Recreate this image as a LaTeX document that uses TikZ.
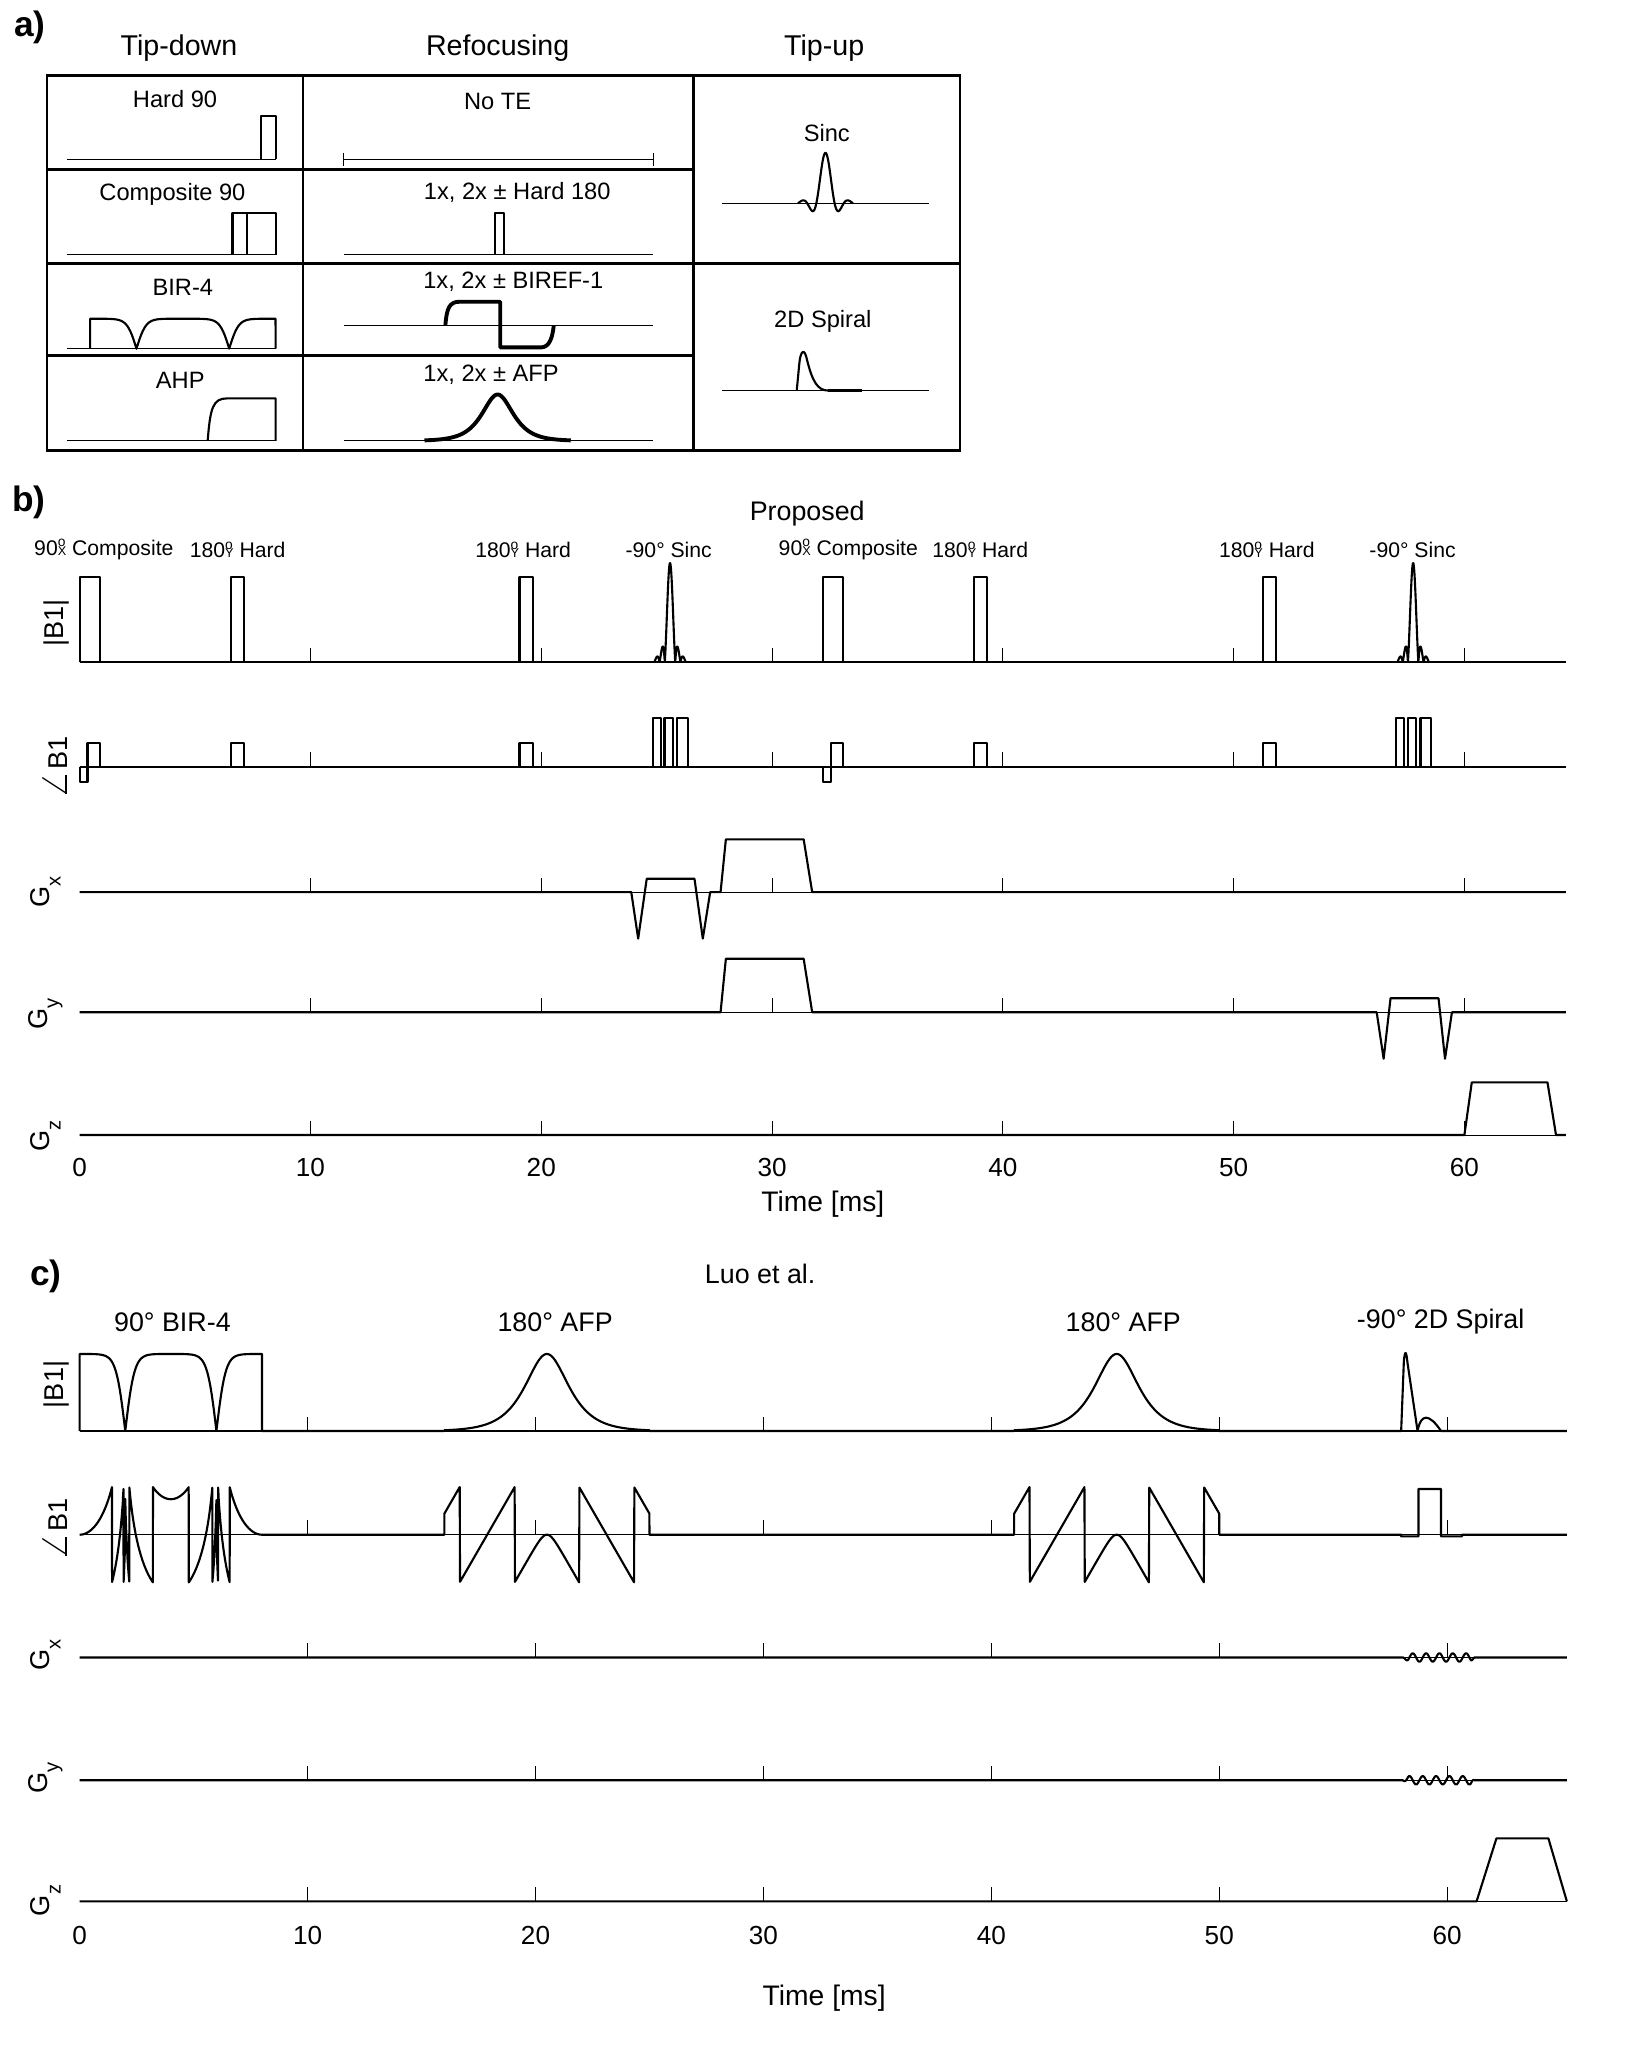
\documentclass[tikz,border=0pt]{standalone}
\usepackage{fontspec}
\setmainfont{Liberation Sans}
\usepackage{tikz}
\usetikzlibrary{positioning}

\newcommand{\fs}[1]{\fontsize{#1}{#1}\selectfont}
% stacked degree sign over the phase axis letter
\newcommand{\degsub}[1]{\makebox[0pt][l]{\raisebox{2.5pt}{\fs{3.9}o}}{\fs{3.6}#1}}
\newcommand{\gsub}[1]{G\raisebox{-3pt}{\fs{5.7}#1}}
\newcommand{\phaselab}{\scalebox{1.45}{$\angle$}B1}

\begin{document}
\begin{tikzpicture}[x=0.013cm, y=-0.013cm,
    every node/.style={inner sep=0pt, outer sep=0pt},
    colhead/.style  ={font=\fs{8.1}},
    celltext/.style ={font=\fs{6.7}},
    panellabel/.style={font=\fs{10}\bfseries},
    seqtitle/.style ={font=\fs{7.6}},
    plabel/.style   ={font=\fs{6.0}},
    ylab/.style     ={font=\fs{7.7}, rotate=90},
    ticklab/.style  ={font=\fs{7.4}},
    tbl/.style      ={line width=0.8pt},
    wave/.style     ={line width=0.6pt, line join=round},
    wavebold/.style ={line width=1.1pt, line join=round},
    axisline/.style ={line width=0.3pt},
    tickmark/.style ={line width=0.3pt},
    declare function={wrap(\p)=mod(\p+21*pi,2*pi)-pi;
                      lnch(\q)=ln(cosh(min(abs(\q),5)))+max(abs(\q)-5,0);}
]
\useasboundingbox (0,0) rectangle (1249,1568);

% ========== PANEL A: pulse table ==========
\node[panellabel] (laba) at (23,21) {a)};
\node[colhead] (tipdown) at (137,37) {Tip-down};
\node[colhead] (refoc)   at (381,37) {Refocusing};
\node[colhead] (tipup)   at (631,37) {Tip-up};

\draw[tbl] (36,58) rectangle (735,345);
\draw[tbl] (232,58) -- (232,345);
\draw[tbl] (531,58) -- (531,345);
\draw[tbl] (36,130) -- (531,130);
\draw[tbl] (36,202) -- (735,202);
\draw[tbl] (36,272) -- (531,272);

% tip-down column
\node[celltext] (hard90) at (134,76) {Hard 90};
\draw[axisline] (51,122) -- (211,122);
\draw[wave] (200,122) |- (211,89) -- (211,122);

\node[celltext] (comp90) at (132,149) {Composite 90};
\draw[axisline] (51,195) -- (211,195);
\draw[wave] (178,195) |- (211,163) -- (211,195);
\draw[wave] (189,163) -- (189,195);

\node[celltext] (bir4) at (140,220) {BIR-4};
\draw[axisline] (51,267) -- (211,267);
\begin{scope}[shift={(69,267)}, y=0.013cm]
  \draw[wave] (0,0) -- plot[domain=0:4, samples=121] (\x*35.5, {23*tanh(5*min(abs(\x-1),abs(\x-3)))}) -- (142,0);
\end{scope}

\node[celltext] (ahp) at (138,291) {AHP};
\draw[axisline] (51,337.5) -- (211,337.5);
\draw[wave] (159,337.5) .. controls (161,312) and (163,305) .. (174,305) -- (211,305) -- (211,337.5);

% refocusing column
\node[celltext] (note) at (381,78) {No TE};
\draw[axisline] (263,122) -- (500,122);
\draw[axisline] (263,117) -- (263,127);
\draw[axisline] (500,117) -- (500,127);

\node[celltext] (hard180) at (396,147) {1x, 2x ± Hard 180};
\draw[axisline] (263,195) -- (500,195);
\draw[wave] (379,195) |- (386,163) -- (386,195);

\node[celltext] (biref) at (393,216) {1x, 2x ± BIREF-1};
\draw[axisline] (263,249) -- (500,249);
\draw[wavebold] (341,249) .. controls (342,236) and (344,231) .. (352,231) -- (383,231) -- (383,266) -- (414,266) .. controls (421,266) and (423,258) .. (424,249);

\node[celltext] (afp) at (376,287) {1x, 2x ± AFP};
\draw[axisline] (263,337.5) -- (500,337.5);
\draw[wavebold] plot[domain=-1:1, samples=81] ({381+56*\x}, {337.5-35.5/cosh(5.3*\x)});

% tip-up column
\node[celltext] (sinc) at (633,102) {Sinc};
\draw[axisline] (553,155.6) -- (711,155.6);
\draw[wave] plot[domain=-3:3, samples=120] ({632+7*\x}, {155.6-38.6*(0.7+0.3*cos(60*\x))*sin(180*\x)/(3.14159*\x)});

\node[celltext] (spiral) at (630,246) {2D Spiral};
\draw[axisline] (553,299) -- (711,299);
\draw[wave] (610,299) -- (612,278) .. controls (613,268) and (616,266) .. (618,276) .. controls (622,292) and (626,299) .. (634,299);
\draw[wavebold] (634,299) -- (660,299);

% ========== PANEL B: proposed sequence ==========
\node[panellabel] (labb) at (22,385) {b)};
\node[seqtitle] (proposed) at (618,393) {Proposed};
\node[plabel] (pb1) at (79.5,421)  {90\degsub{X} Composite};
\node[plabel] (pb2) at (182,421)   {180\degsub{Y} Hard};
\node[plabel] (pb3) at (400.5,421) {180\degsub{Y} Hard};
\node[plabel] (pb4) at (512,421)   {-90° Sinc};
\node[plabel] (pb5) at (649.5,421) {90\degsub{X} Composite};
\node[plabel] (pb6) at (750.5,421) {180\degsub{Y} Hard};
\node[plabel] (pb7) at (970,421)   {180\degsub{Y} Hard};
\node[plabel] (pb8) at (1081.5,421){-90° Sinc};

\node[ylab] (bmag) at (43,477) {|B1|};
\node[ylab] (bph)  at (42,588) {\phaselab};
\node[ylab] (bgx)  at (35,683) {\gsub{x}};
\node[ylab] (bgy)  at (35,776) {\gsub{y}};
\node[ylab] (bgz)  at (35,870) {\gsub{z}};

% |B1|
\begin{scope}[shift={(61,507)}, x=0.22971cm, y=0.013cm]
  \draw[axisline] (0,0) -- (64.4,0);
  \foreach \tk in {10,20,...,60} \draw[tickmark] (\tk,0) -- (\tk,11);
  \draw[wave] (0,0) -- (64.4,0);
  \foreach \off in {0,32.2} {
    \draw[wave] (\off,0) |- (\off+0.87,65) -- (\off+0.87,0);
    \draw[wave] (\off+6.54,0) |- (\off+7.11,65) -- (\off+7.11,0);
    \draw[wave] (\off+19.06,0) |- (\off+19.64,65) -- (\off+19.64,0);
    \draw[wave] plot[domain=-3:3, samples=120] ({\off+25.58+0.2264*\x}, {76*abs(sin(180*\x)/(3.14159*\x))*(0.7+0.3*cos(60*\x))});
  }
\end{scope}

% phase of B1
\begin{scope}[shift={(61,587)}, x=0.22971cm, y=0.013cm]
  \draw[axisline] (0,0) -- (64.4,0);
  \foreach \tk in {10,20,...,60} \draw[tickmark] (\tk,0) -- (\tk,11);
  \draw[wave] (0,0) -- (64.4,0);
  \foreach \off in {0,32.2} {
    \draw[wave] (\off,0) -- (\off,-12) -- (\off+0.34,-12) -- (\off+0.34,18) -- (\off+0.88,18) -- (\off+0.88,0);
    \draw[wave] (\off+6.54,0) |- (\off+7.11,18) -- (\off+7.11,0);
    \draw[wave] (\off+19.06,0) |- (\off+19.64,18) -- (\off+19.64,0);
    \foreach \ba/\bb in {24.85/25.17, 25.34/25.71, 25.90/26.37}
      \draw[wave] (\off+\ba,0) |- (\off+\bb,37) -- (\off+\bb,0);
  }
\end{scope}

% Gx
\begin{scope}[shift={(61,683)}, x=0.22971cm, y=0.013cm]
  \draw[axisline] (0,0) -- (64.4,0);
  \foreach \tk in {10,20,...,60} \draw[tickmark] (\tk,0) -- (\tk,11);
  \draw[wave] (0,0) -- (23.9,0) -- (24.2,-35.6) -- (24.57,10.2) -- (26.64,10.2) -- (27.0,-35.6) -- (27.32,0) -- (27.77,0) -- (28.0,40.4) -- (31.37,40.4) -- (31.74,0) -- (64.4,0);
\end{scope}

% Gy
\begin{scope}[shift={(61,775)}, x=0.22971cm, y=0.013cm]
  \draw[axisline] (0,0) -- (64.4,0);
  \foreach \tk in {10,20,...,60} \draw[tickmark] (\tk,0) -- (\tk,11);
  \draw[wave] (0,0) -- (27.77,0) -- (28.0,41) -- (31.37,41) -- (31.74,0) -- (56.2,0) -- (56.5,-35.6) -- (56.8,10.7) -- (58.88,10.7) -- (59.16,-35.6) -- (59.46,0) -- (64.4,0);
\end{scope}

% Gz
\begin{scope}[shift={(61,869)}, x=0.22971cm, y=0.013cm]
  \draw[axisline] (0,0) -- (64.4,0);
  \foreach \tk in {10,20,...,60} \draw[tickmark] (\tk,0) -- (\tk,11);
  \draw[wave] (0,0) -- (60.0,0) -- (60.32,40.3) -- (63.6,40.3) -- (63.97,0) -- (64.4,0);
\end{scope}

\foreach \tk in {0,10,...,60}
  \node[ticklab] (tb\tk) at ({61+17.67*\tk},894) {\tk};
\node[ticklab, font=\fs{8}] (timeb) at (630,922) {Time [ms]};

% ========== PANEL C: Luo et al. ==========
\node[panellabel] (labc) at (35,977) {c)};
\node[seqtitle] (luo) at (582,975) {Luo et al.};
\node[seqtitle] (pc1) at (132,1012)  {90° BIR-4};
\node[seqtitle] (pc2) at (425,1012)  {180° AFP};
\node[seqtitle] (pc3) at (860,1012)  {180° AFP};
\node[seqtitle] (pc4) at (1103,1012) {-90° 2D Spiral};

\node[ylab] (cmag) at (43,1060) {|B1|};
\node[ylab] (cph)  at (42,1171) {\phaselab};
\node[ylab] (cgx)  at (35,1267) {\gsub{x}};
\node[ylab] (cgy)  at (35,1361) {\gsub{y}};
\node[ylab] (cgz)  at (35,1455) {\gsub{z}};

% |B1|
\begin{scope}[shift={(61,1095.6)}, x=0.22685cm, y=0.013cm]
  \draw[axisline] (0,0) -- (65.25,0);
  \foreach \tk in {10,20,...,60} \draw[tickmark] (\tk,0) -- (\tk,11);
  \draw[wave] (0,0) -- plot[domain=0:8, samples=161] (\x, {59*tanh(5*min(abs(\x/2-1),abs(\x/2-3)))}) -- (8,0) -- (16,0)
    -- plot[domain=-1:1, samples=121] ({20.5+4.5*\x}, {59/cosh(5.3*\x)}) -- (25,0) -- (41,0)
    -- plot[domain=-1:1, samples=121] ({45.5+4.5*\x}, {59/cosh(5.3*\x)}) -- (50,0) -- (57.98,0)
    -- (58.1,54) .. controls (58.15,62) and (58.2,62) .. (58.26,52) -- (58.7,0)
    .. controls (58.85,13.6) and (59.2,13.6) .. (59.73,0) -- (65.25,0);
\end{scope}

% phase of B1
\begin{scope}[shift={(61,1175)}, x=0.22685cm, y=0.013cm]
  \draw[axisline] (0,0) -- (65.25,0);
  \foreach \tk in {10,20,...,60} \draw[tickmark] (\tk,0) -- (\tk,11);
  \draw[wave] (0,0)
    -- plot[domain=0:2, samples=400] (\x, {36.5*wrap(-4.2*ln(cos(43.569*\x)))/pi})
    -- plot[domain=2:6, samples=800] (\x, {36.5*wrap(2.34-4.2*ln(cos(43.569*(\x-4))))/pi})
    -- plot[domain=6:8, samples=400] (\x, {36.5*wrap(-4.2*ln(cos(43.569*(8-\x))))/pi})
    -- (8,0) -- (16,0)
    -- plot[domain=-1:1, samples=600] ({20.5+4.5*\x}, {36.5*wrap(-0.7815*lnch(15*\x))/pi}) -- (25,0) -- (41,0)
    -- plot[domain=-1:1, samples=600] ({45.5+4.5*\x}, {36.5*wrap(-0.7815*lnch(15*\x))/pi}) -- (50,0) -- (57.98,0)
    -- (57.98,-1.3) -- (58.74,-1.3) -- (58.74,35) -- (59.73,35) -- (59.73,-1.3) -- (60.65,-1.3) -- (60.65,0) -- (65.25,0);
\end{scope}

% Gx
\begin{scope}[shift={(61,1269)}, x=0.22685cm, y=0.013cm]
  \draw[axisline] (0,0) -- (65.25,0);
  \foreach \tk in {10,20,...,60} \draw[tickmark] (\tk,0) -- (\tk,11);
  \draw[wave] (0,0) -- (58.05,0)
    -- plot[domain=58.05:61.19, samples=150] (\x, {-3.2*min(1,(\x-58.05)/0.25)*min(1,(61.19-\x)/0.15)*sin(615.4*(\x-58.05))})
    -- (65.25,0);
\end{scope}

% Gy
\begin{scope}[shift={(61,1363)}, x=0.22685cm, y=0.013cm]
  \draw[axisline] (0,0) -- (65.25,0);
  \foreach \tk in {10,20,...,60} \draw[tickmark] (\tk,0) -- (\tk,11);
  \draw[wave] (0,0) -- (58.05,0)
    -- plot[domain=58.05:61.19, samples=150] (\x, {-3.2*min(1,(\x-58.05)/0.25)*min(1,(61.19-\x)/0.15)*sin(615.4*(\x-58.05)+90)})
    -- (65.25,0);
\end{scope}

% Gz
\begin{scope}[shift={(61,1455.7)}, x=0.22685cm, y=0.013cm]
  \draw[axisline] (0,0) -- (65.25,0);
  \foreach \tk in {10,20,...,60} \draw[tickmark] (\tk,0) -- (\tk,11);
  \draw[wave] (0,0) -- (61.29,0) -- (62.16,48.2) -- (64.44,48.2) -- (65.25,0);
\end{scope}

\foreach \tk in {0,10,...,60}
  \node[ticklab] (tc\tk) at ({61+17.45*\tk},1482) {\tk};
\node[ticklab, font=\fs{8}] (timec) at (631,1530) {Time [ms]};

\end{tikzpicture}
\end{document}
